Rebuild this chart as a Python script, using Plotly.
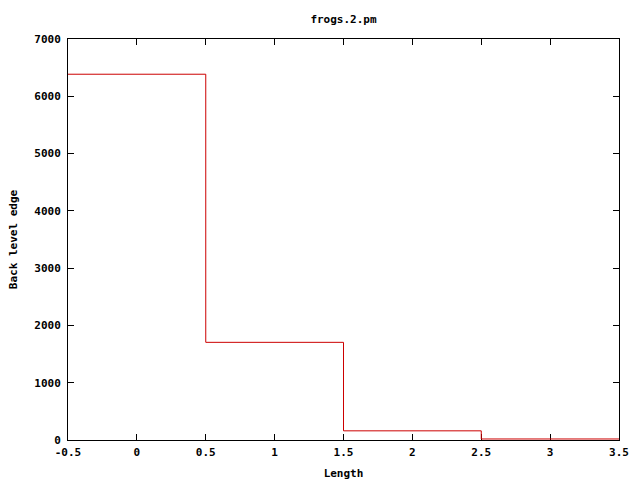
import plotly.graph_objects as go

categories = [0, 1, 2, 3]
values = [6385, 1705, 160, 18]
x_ticks = [-0.5, 0, 0.5, 1, 1.5, 2, 2.5, 3, 3.5]
x_tick_labels = ["-0.5", "0", "0.5", "1", "1.5", "2", "2.5", "3", "3.5"]
y_ticks = [0, 1000, 2000, 3000, 4000, 5000, 6000, 7000]

edges = [c - 0.5 for c in categories] + [categories[-1] + 0.5]
step_y = values + [values[-1]]

font = dict(family="DejaVu Sans Mono, Liberation Mono, monospace", size=11, color="black", weight="bold")

fig = go.Figure()
fig.add_trace(go.Scatter(x=edges, y=step_y, mode="lines", line=dict(shape="hv", color="#cc0000", width=1),
                         showlegend=False, hoverinfo="skip", cliponaxis=False))

axis_common = dict(showgrid=False, zeroline=False, showline=True, linecolor="black", linewidth=1,
                   ticks="inside", ticklen=6, tickcolor="black", tickwidth=1, mirror="ticks",
                   tickfont=font, automargin=False, layer="below traces")

fig.update_layout(
    width=640, height=480,
    margin=dict(l=68, r=21, t=39, b=40, autoexpand=False),
    paper_bgcolor="white", plot_bgcolor="white",
    title=dict(text="frogs.2.pm", x=(68 + 619) / 2 / 640, xanchor="center", y=1 - 19 / 480, yanchor="middle",
               font=font, automargin=False),
    xaxis=dict(range=[-0.5, 3.5], tickvals=x_ticks, ticktext=x_tick_labels, ticklabelstandoff=2,
               title=dict(text="Length", font=font, standoff=11), **axis_common),
    yaxis=dict(range=[0, 7000], tickvals=y_ticks, ticklabelstandoff=4,
               title=dict(text="Back level edge", font=font, standoff=14),
               **axis_common),
    font=font,
)

fig.write_html("out.html", config={"displayModeBar": False},
               post_script="document.body.style.margin='0px';")
